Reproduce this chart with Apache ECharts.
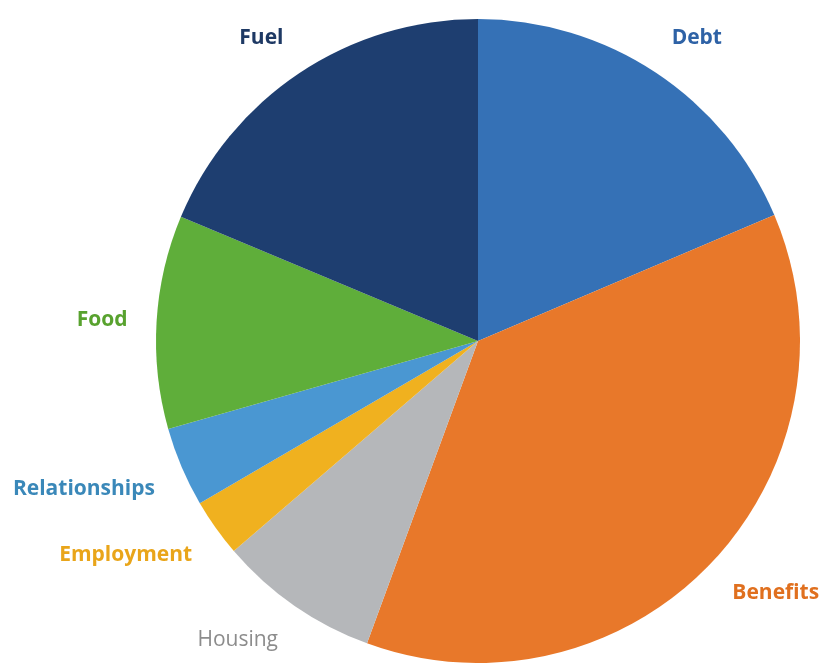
<!DOCTYPE html>
<html>
<head>
<meta charset="utf-8">
<script src="https://cdn.jsdelivr.net/npm/echarts@6/dist/echarts.min.js"></script>
<style>
html,body{margin:0;padding:0;background:#fff;}
#chart{width:823px;height:663px;}
</style>
</head>
<body>
<div id="chart"></div>
<script>
// Data (percent shares), clockwise from 12 o'clock
const categories = ['Debt', 'Benefits', 'Housing', 'Employment', 'Relationships', 'Food', 'Fuel'];
const shares = [18.6, 37.0, 8.1, 2.9, 4.0, 10.7, 18.7];

// Styles
const sliceColors = ['#3571b6', '#e8782a', '#b5b7ba', '#f0b11f', '#4a97d2', '#5fae3a', '#1e3e70'];
const labelColors = ['#2e62a6', '#e0701f', '#8c8c8c', '#e9a51a', '#3a88b9', '#58a22e', '#1e3964'];
const labelWeights = ['bold', 'bold', 'normal', 'bold', 'bold', 'bold', 'bold'];

const CX = 478, CY = 341, R = 322, LABEL_DIST = 351;

const total = shares.reduce((a, b) => a + b, 0);
const midAngles = [];
let acc = 0;
shares.forEach(v => { midAngles.push((acc + v / 2) / total * 2 * Math.PI); acc += v; });

const chart = echarts.init(document.getElementById('chart'), null, {renderer: 'canvas'});
chart.setOption({
  animation: false,
  backgroundColor: '#ffffff',
  series: [{
    type: 'pie',
    center: [CX, CY],
    radius: [0, R],
    startAngle: 90,
    clockwise: true,
    avoidLabelOverlap: false,
    emphasis: {disabled: true},
    itemStyle: {borderWidth: 0},
    label: {
      show: true,
      position: 'outside',
      fontFamily: 'Open Sans',
      fontSize: 21,
      formatter: '{b}'
    },
    labelLine: {show: false, length: 30, length2: 0},
    labelLayout: function (params) {
      const a = midAngles[params.dataIndex];
      const s = Math.sin(a), c = Math.cos(a);
      const x = CX + LABEL_DIST * s;
      const y = CY - LABEL_DIST * c;
      return {
        x: x,
        y: y,
        align: s < 0 ? 'right' : 'left',
        verticalAlign: c > 0.25 ? 'bottom' : (c < -0.25 ? 'top' : 'middle')
      };
    },
    data: categories.map((name, i) => ({
      name: name,
      value: shares[i],
      itemStyle: {color: sliceColors[i]},
      label: {color: labelColors[i], fontWeight: labelWeights[i]}
    }))
  }]
});
</script>
</body>
</html>
